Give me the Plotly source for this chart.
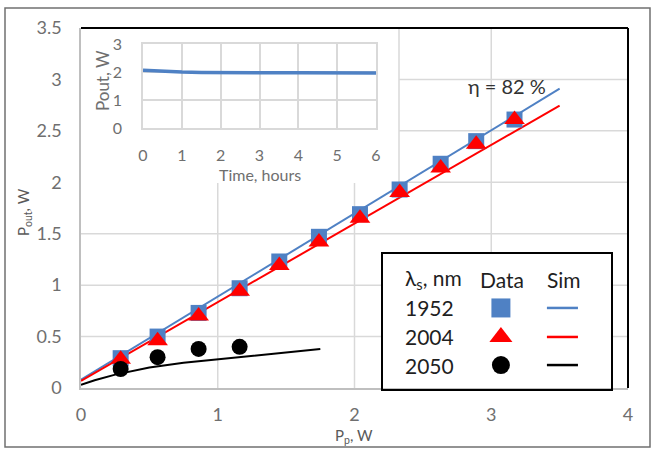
import plotly.graph_objects as go

# ---------------- data ----------------
pump_w = [0.29, 0.56, 0.86, 1.16, 1.45, 1.74, 2.04, 2.33, 2.63, 2.89, 3.17]
out_1952 = [0.29, 0.50, 0.73, 0.97, 1.23, 1.47, 1.69, 1.93, 2.18, 2.40, 2.61]
out_2004 = [0.28, 0.46, 0.70, 0.94, 1.19, 1.42, 1.65, 1.90, 2.14, 2.37, 2.61]
pump_2050 = [0.29, 0.56, 0.86, 1.16]
out_2050 = [0.185, 0.30, 0.38, 0.40]

sim_x_lin = [0.0, 3.5]
sim_1952 = [0.08, 2.91]
sim_2004 = [0.07, 2.745]
sim_x_2050 = [0.0, 0.1, 0.25, 0.5, 0.75, 1.0, 1.25, 1.5, 1.75]
sim_2050 = [0.03, 0.075, 0.13, 0.20, 0.245, 0.28, 0.31, 0.345, 0.38]

time_h = [0, 0.25, 0.5, 1, 1.5, 2, 3, 4, 5, 6]
stab_out = [2.07, 2.05, 2.03, 2.00, 1.99, 1.98, 1.98, 1.98, 1.98, 1.97]

x_ticks = [0, 1, 2, 3, 4]
y_ticks = [0, 0.5, 1, 1.5, 2, 2.5, 3, 3.5]
t_ticks = [0, 1, 2, 3, 4, 5, 6]
ti_ticks = [0, 1, 2, 3]

legend_labels = ["1952", "2004", "2050"]

# ---------------- styles ----------------
BLUE = "#4f81c4"
RED = "#ff0000"
BLACK = "#000000"
GRID = "#d9d9d9"
TICK = "#6f6f6f"
TXT = "#1f1f1f"
FONT = "Lato, 'Open Sans', sans-serif"

W, H = 654, 449
L, R, T, B = 81, 26, 28, 61
PW, PH = W - L - R, H - T - B
X_RANGE = [0, 4]
Y_RANGE = [0, 3.5]


def px(x):
    return (x - L) / PW


def py(y):
    return (H - B - y) / PH


# inset white box edges (pixels) expressed in main data units
BOX_RIGHT_PX, BOX_BOTTOM_PX = 399, 183
box_right_x = X_RANGE[0] + px(BOX_RIGHT_PX) * (X_RANGE[1] - X_RANGE[0])
box_bottom_y = Y_RANGE[0] + py(BOX_BOTTOM_PX) * (Y_RANGE[1] - Y_RANGE[0])

fig = go.Figure()

# main simulated lines
fig.add_trace(go.Scatter(x=sim_x_lin, y=sim_1952, mode="lines", line=dict(color=BLUE, width=2), showlegend=False))
fig.add_trace(go.Scatter(x=sim_x_lin, y=sim_2004, mode="lines", line=dict(color=RED, width=2), showlegend=False))
fig.add_trace(go.Scatter(x=sim_x_2050, y=sim_2050, mode="lines", line=dict(color=BLACK, width=2), showlegend=False))
# measured data
fig.add_trace(go.Scatter(x=pump_w, y=out_1952, mode="markers",
                         marker=dict(symbol="square", size=16, color=BLUE), showlegend=False))
fig.add_trace(go.Scatter(x=pump_w, y=out_2004, mode="markers",
                         marker=dict(symbol="triangle-up", size=18, color=RED), showlegend=False))
fig.add_trace(go.Scatter(x=pump_2050, y=out_2050, mode="markers",
                         marker=dict(symbol="circle", size=16, color=BLACK), showlegend=False))

# inset
fig.add_trace(go.Scatter(x=time_h, y=stab_out, xaxis="x2", yaxis="y2", mode="lines",
                         line=dict(color=BLUE, width=3.5), showlegend=False))

# legend key panel (subplot x3y3)
leg_rows_y = [0.593, 0.378, 0.170]
leg_marker_x = 0.517
leg_symbols = ["square", "triangle-up", "circle"]
leg_sizes = [19, 20, 18]
leg_colors = [BLUE, RED, BLACK]
for i in range(3):
    fig.add_trace(go.Scatter(x=[leg_marker_x], y=[leg_rows_y[i]], xaxis="x3", yaxis="y3", mode="markers",
                             marker=dict(symbol=leg_symbols[i], size=leg_sizes[i], color=leg_colors[i]),
                             showlegend=False, hoverinfo="skip"))
    fig.add_trace(go.Scatter(x=[0.717, 0.852], y=[leg_rows_y[i]] * 2, xaxis="x3", yaxis="y3", mode="lines",
                             line=dict(color=leg_colors[i], width=2.5), showlegend=False, hoverinfo="skip"))

main_axis = dict(showgrid=False, zeroline=False, ticks="",
                 tickfont=dict(family=FONT, size=18, color=TICK),
                 showline=True, linecolor="#bfbfbf", linewidth=1.5)
inset_axis = dict(showgrid=True, gridcolor=GRID, gridwidth=1.5, zeroline=False, ticks="",
                  tickfont=dict(family=FONT, size=16, color=TICK),
                  showline=True, mirror=True, linecolor=GRID, linewidth=1.5)

fig.update_layout(
    width=W, height=H,
    margin=dict(l=L, r=R, t=T, b=B),
    paper_bgcolor="white", plot_bgcolor="white",
    font=dict(family=FONT),
    xaxis=dict(domain=[0, 1], range=X_RANGE, tickvals=x_ticks, ticklabelstandoff=10, **main_axis),
    yaxis=dict(domain=[0, 1], range=Y_RANGE, tickvals=y_ticks, ticklabelstandoff=14, **main_axis),
    xaxis2=dict(domain=[px(143), px(376)], range=[0, 6], tickvals=t_ticks, anchor="y2",
                ticklabelstandoff=12, **inset_axis),
    yaxis2=dict(domain=[py(128.3), py(44)], range=[0, 3], tickvals=ti_ticks, anchor="x2",
                ticklabelstandoff=16, **inset_axis),
    xaxis3=dict(domain=[px(382), px(612)], range=[0, 1], anchor="y3", visible=False),
    yaxis3=dict(domain=[0, py(253)], range=[0, 1], anchor="x3", visible=False),
)

shapes = []
# main gridlines, kept out of the inset's white box
for xv in x_ticks[1:-1]:
    top = box_bottom_y if xv < box_right_x else Y_RANGE[1]
    shapes.append(dict(type="line", xref="x", yref="y", x0=xv, x1=xv, y0=Y_RANGE[0], y1=top,
                       layer="below", line=dict(color=GRID, width=1.5)))
for yv in y_ticks[1:-1]:
    left = box_right_x if yv > box_bottom_y + 1e-6 else X_RANGE[0]
    shapes.append(dict(type="line", xref="x", yref="y", x0=left, x1=X_RANGE[1], y0=yv, y1=yv,
                       layer="below", line=dict(color=GRID, width=1.5)))
shapes += [
    # faint border of the inset box
    dict(type="line", xref="x", yref="y", x0=box_right_x, x1=box_right_x, y0=box_bottom_y, y1=Y_RANGE[1],
         layer="below", line=dict(color=GRID, width=1.5)),
    # black top and right frame of the plot area
    dict(type="line", xref="paper", yref="paper", x0=0, x1=1, y0=1, y1=1, line=dict(color="black", width=2)),
    dict(type="line", xref="paper", yref="paper", x0=1, x1=1, y0=0, y1=1, line=dict(color="black", width=2)),
    # legend box border
    dict(type="rect", xref="paper", yref="paper", x0=px(382), x1=px(612), y0=py(390), y1=py(253),
         line=dict(color="black", width=2), fillcolor="rgba(0,0,0,0)"),
    # outer figure border
    dict(type="rect", xref="paper", yref="paper", x0=px(5), x1=px(650), y0=py(447), y1=py(8),
         line=dict(color="#707070", width=1.5), fillcolor="rgba(0,0,0,0)"),
]
fig.update_layout(shapes=shapes)

C = dict(xanchor="center", yanchor="middle", showarrow=False)
ann = [
    dict(text="P<sub>out</sub>, W", x=px(24), y=py(212), xref="paper", yref="paper", textangle=-90,
         font=dict(family=FONT, size=15, color="#595959"), **C),
    dict(text="P<sub>p</sub>, W", x=px(354), y=py(436), xref="paper", yref="paper",
         font=dict(family=FONT, size=15, color="#595959"), **C),
    dict(text="Pout, W", x=px(102), y=py(81), xref="paper", yref="paper", textangle=-90,
         font=dict(family=FONT, size=17, color=TICK), **C),
    dict(text="Time, hours", x=px(260), y=py(174), xref="paper", yref="paper",
         font=dict(family=FONT, size=16, color=TICK), **C),
    dict(text="η = 82 %", x=3.115, y=2.94, xref="x", yref="y",
         font=dict(family=FONT, size=20, color="#333333"), **C),
    # legend table text
    dict(text="λ<sub>s</sub>, nm", x=0.091, y=0.807, xref="x3", yref="y3", xanchor="left", yanchor="middle",
         showarrow=False, font=dict(family=FONT, size=21, color=TXT)),
    dict(text="Data", x=0.522, y=0.807, xref="x3", yref="y3",
         font=dict(family=FONT, size=21, color=TXT), **C),
    dict(text="Sim", x=0.791, y=0.807, xref="x3", yref="y3",
         font=dict(family=FONT, size=21, color=TXT), **C),
]
for i, lab in enumerate(legend_labels):
    ann.append(dict(text=lab, x=0.091, y=leg_rows_y[i], xref="x3", yref="y3", xanchor="left", yanchor="middle",
                    showarrow=False, font=dict(family=FONT, size=21, color=TXT)))
fig.update_layout(annotations=ann)

fig.write_html("out.html")
